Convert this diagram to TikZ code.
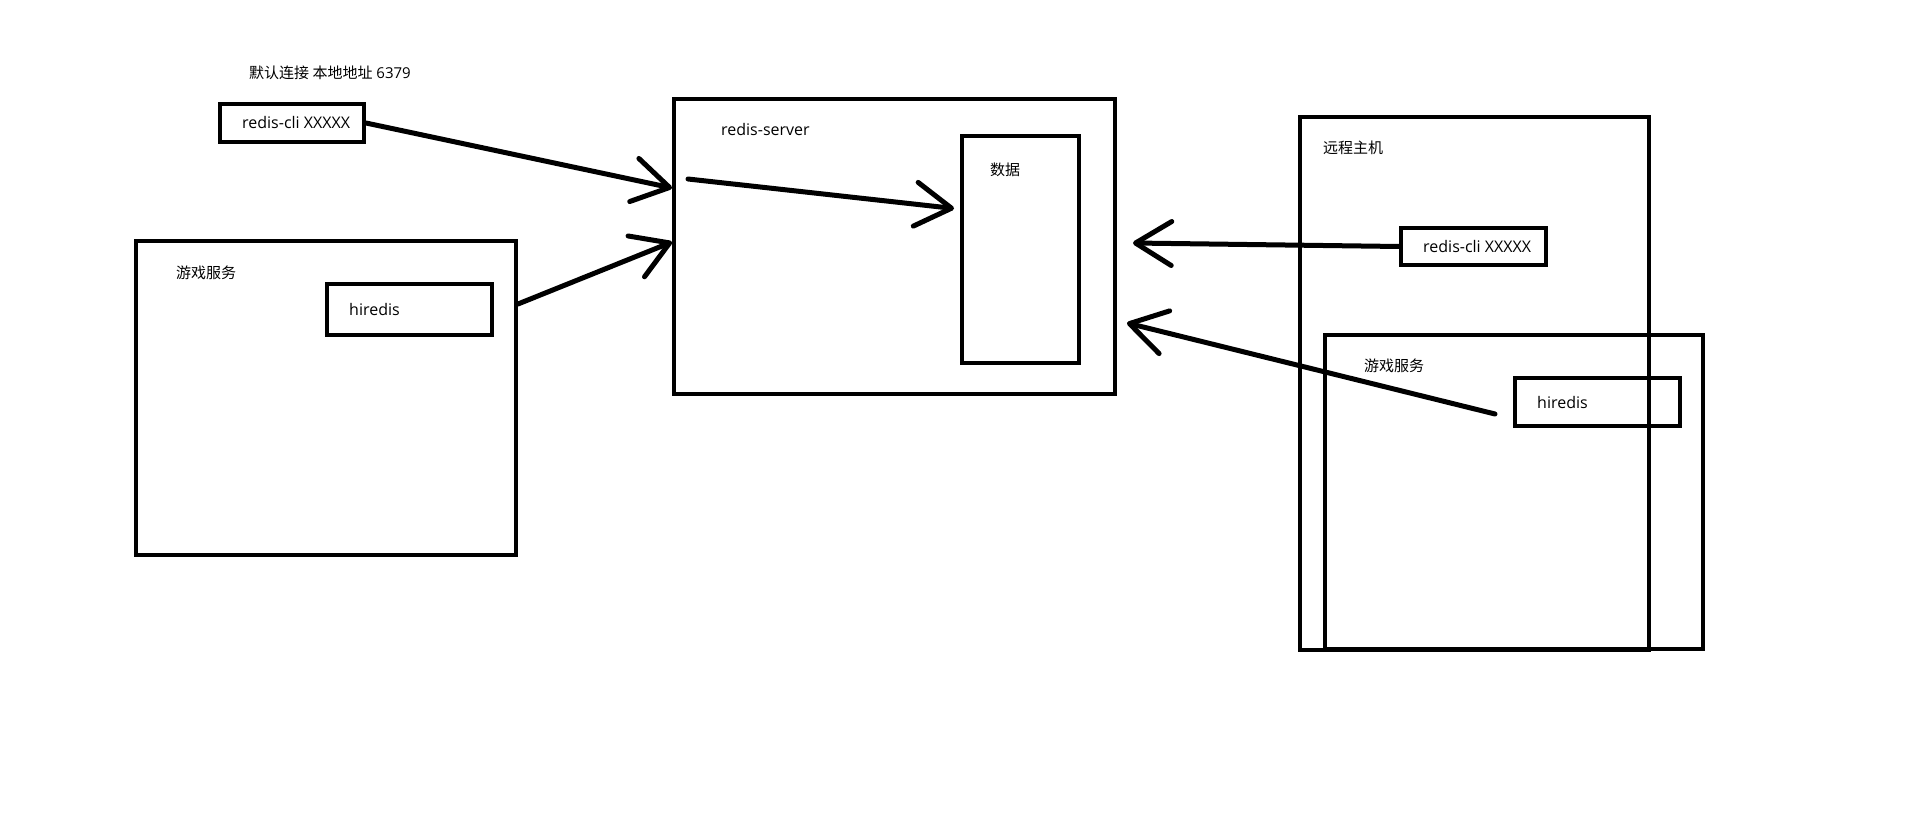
\documentclass[tikz,border=0pt]{standalone}
\usepackage{fontspec}
\setmainfont{Open Sans}
\newfontfamily\cjk{Noto Sans CJK SC}
\usetikzlibrary{positioning,arrows.meta,calc}

\begin{document}
\begin{tikzpicture}[x=1pt, y=-1pt,
  every node/.style={font=\fontsize{16}{19}\selectfont, inner sep=0pt},
  frame/.style={draw, line width=4pt},
  lbl/.style={anchor=west},
  zh/.style={font=\fontsize{15}{18}\selectfont\cjk},
  link/.style={line width=5pt, line cap=round, -{Straight Barb[length=36pt, width=44pt, round]}}]
  \useasboundingbox (0,0) rectangle (1914,834);
  % local side
  \node[frame, minimum width=144pt, minimum height=38pt] (cliL) at (292,123) {};
  \node[lbl] (cliLtxt) [right=24pt of cliL.west] {redis-cli XXXXX};
  \node[lbl, font=\fontsize{15}{18}\selectfont] (deftxt) at ([shift={(31pt,29pt)}]cliL.north west) {{\cjk 默认连接 本地地址} 6379};
  \node[frame, minimum width=380pt, minimum height=314pt] (gameL) at (326,398) {};
  \node[lbl, zh] (gameLtxt) at ([shift={(42pt,-34pt)}]gameL.north west) {游戏服务};
  \node[frame, minimum width=165pt, minimum height=51pt] (hiredisL) at (409.5,309.5) {};
  \node[lbl] (hiredisLtxt) [right=24pt of hiredisL.west] {hiredis};
  % server
  \node[frame, minimum width=441pt, minimum height=295pt] (server) at (894.5,246.5) {};
  \node[lbl] (servertxt) at ([shift={(49pt,-33pt)}]server.north west) {redis-server};
  \node[frame, minimum width=117pt, minimum height=227pt] (data) at (1020.5,249.5) {};
  \node[lbl, zh] (datatxt) at ([shift={(30pt,-36pt)}]data.north west) {数据};
  % remote host
  \node[frame, minimum width=349pt, minimum height=533pt] (remote) at (1474.5,383.5) {};
  \node[lbl, zh] (remotetxt) at ([shift={(25pt,-33pt)}]remote.north west) {远程主机};
  \node[frame, minimum width=145pt, minimum height=37pt] (cliR) at (1473.5,246.5) {};
  \node[lbl] (cliRtxt) [right=24pt of cliR.west] {redis-cli XXXXX};
  \node[frame, minimum width=378pt, minimum height=314pt] (gameR) at (1514,492) {};
  \node[lbl, zh] (gameRtxt) at ([shift={(41pt,-33pt)}]gameR.north west) {游戏服务};
  \node[frame, minimum width=165pt, minimum height=48pt] (hiredisR) at (1597.5,402) {};
  \node[lbl] (hiredisRtxt) [right=24pt of hiredisR.west] {hiredis};
  \coordinate (srvin1) at (1133,243);
  \coordinate (srvin2) at (1127,323);
  % connections
  \draw[link] (cliL.east) -- ([yshift=58.5pt]server.west);
  \draw[link] ([yshift=94pt]gameL.east) -- ([yshift=4.5pt]server.west);
  \draw[link] ([shift={(16pt,-82pt)}]server.north west) -- ([shift={(-6pt,41pt)}]data.west);
  \draw[link] (cliR.west) -- (srvin1);
  \draw[link] ([shift={(-18pt,-12pt)}]hiredisR.west) -- (srvin2);
\end{tikzpicture}
\end{document}
